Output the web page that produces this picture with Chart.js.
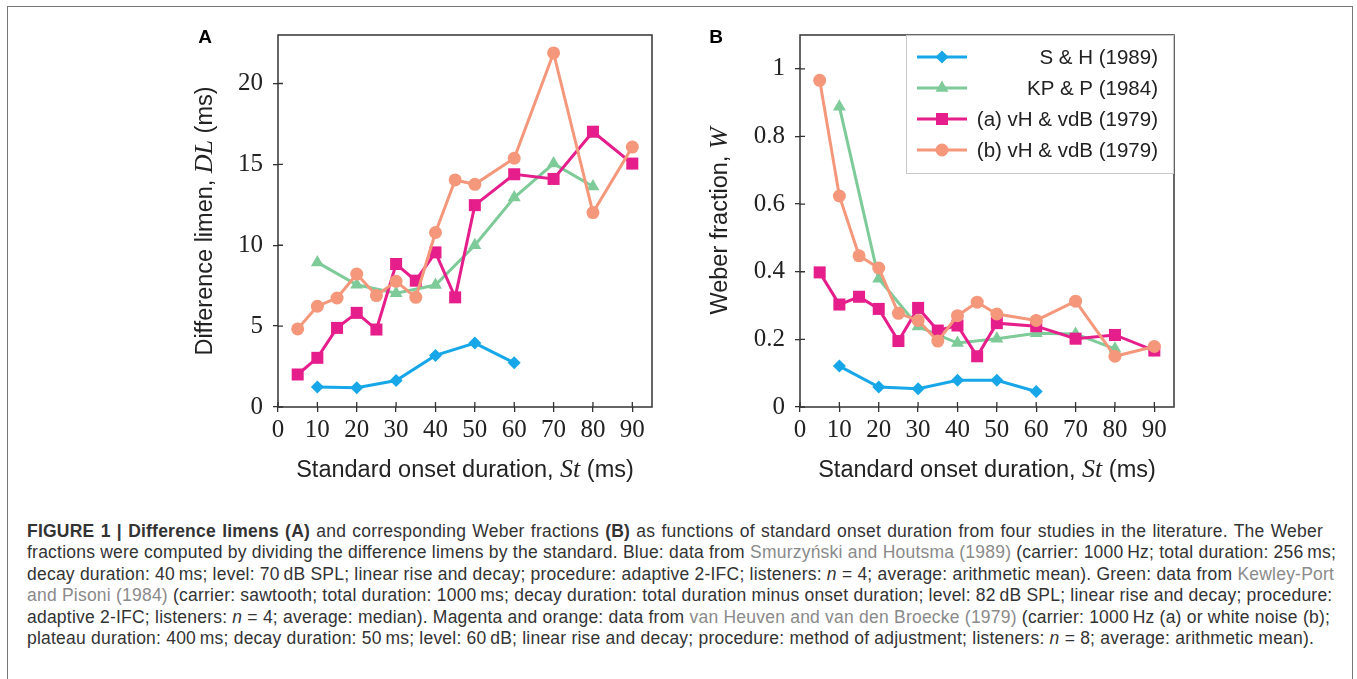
<!DOCTYPE html>
<html>
<head>
<meta charset="utf-8">
<script src="https://cdn.jsdelivr.net/npm/chart.js@4.4.1/dist/chart.umd.min.js"></script>
<style>
  body { margin: 0; background: #fff; width: 1357px; height: 679px; overflow: hidden; position: relative; font-family: "Liberation Sans", Arial, sans-serif; }
  #frame { position: absolute; left: 7px; top: 6px; width: 1344px; height: 720px; border: 1px solid #777; }
  canvas { position: absolute; top: 10px; }
  #chartA { left: 160px; }
  #chartB { left: 682px; }
  #caption { position: absolute; left: 27px; top: 521px; font-size: 17.5px; letter-spacing: 0.22px; line-height: 21.4px; color: #333; }
  #caption div { white-space: nowrap; text-align: justify; text-align-last: justify; }
  #caption .last { text-align-last: left; }
  #caption a { color: #8a8a8a; text-decoration: none; }
</style>
</head>
<body>
<div id="frame"></div>
<canvas id="chartA" width="520" height="490"></canvas>
<canvas id="chartB" width="520" height="490"></canvas>
<div id="caption">
  <div style="width:1296px"><b>FIGURE 1 | Difference limens (A)</b> and corresponding Weber fractions <b>(B)</b> as functions of standard onset duration from four studies in the literature. The Weber</div>
  <div style="width:1303px">fractions were computed by dividing the difference limens by the standard. Blue: data from <a>Smurzyński and Houtsma (1989)</a> (carrier: 1000&#8201;Hz; total duration: 256&#8201;ms;</div>
  <div style="width:1301px">decay duration: 40&#8201;ms; level: 70&#8201;dB SPL; linear rise and decay; procedure: adaptive 2-IFC; listeners: <i>n</i> = 4; average: arithmetic mean). Green: data from <a>Kewley-Port</a></div>
  <div style="width:1302px"><a>and Pisoni (1984)</a> (carrier: sawtooth; total duration: 1000&#8201;ms; decay duration: total duration minus onset duration; level: 82&#8201;dB SPL; linear rise and decay; procedure:</div>
  <div style="width:1299px">adaptive 2-IFC; listeners: <i>n</i> = 4; average: median). Magenta and orange: data from <a>van Heuven and van den Broecke (1979)</a> (carrier: 1000&#8201;Hz (a) or white noise (b);</div>
  <div class="last">plateau duration: 400&#8201;ms; decay duration: 50&#8201;ms; level: 60&#8201;dB; linear rise and decay; procedure: method of adjustment; listeners: <i>n</i> = 8; average: arithmetic mean).</div>
</div>
<script>
// standard onset durations (ms)
const stSH  = [10, 20, 30, 40, 50, 60];
const stKPP = [10, 20, 30, 40, 50, 60, 70, 80];
const stVH  = [5, 10, 15, 20, 25, 30, 35, 40, 45, 50, 60, 70, 80, 90];

// panel A: difference limen DL (ms)
const dlSH  = [1.23, 1.19, 1.64, 3.19, 3.95, 2.73];
const dlKPP = [8.94, 7.56, 7.03, 7.54, 10.0, 12.95, 15.05, 13.63];
const dlVHa = [2.01, 3.04, 4.89, 5.82, 4.79, 8.84, 7.81, 9.56, 6.78, 12.48, 14.39, 14.1, 17.02, 15.05];
const dlVHb = [4.83, 6.23, 6.74, 8.22, 6.89, 7.77, 6.78, 10.79, 14.04, 13.77, 15.38, 21.89, 12.02, 16.07];

// panel B: Weber fraction W
const wSH  = [0.121, 0.059, 0.054, 0.079, 0.079, 0.046];
const wKPP = [0.888, 0.379, 0.238, 0.189, 0.202, 0.218, 0.216, 0.172];
const wVHa = [0.398, 0.303, 0.326, 0.290, 0.195, 0.293, 0.226, 0.241, 0.150, 0.248, 0.239, 0.202, 0.213, 0.167];
const wVHb = [0.966, 0.624, 0.447, 0.411, 0.277, 0.256, 0.195, 0.270, 0.310, 0.275, 0.256, 0.313, 0.150, 0.179];

const seriesNames = ['S & H (1989)', 'KP & P (1984)', '(a) vH & vdB (1979)', '(b) vH & vdB (1979)'];
const xTicks  = [0, 10, 20, 30, 40, 50, 60, 70, 80, 90];
const yTicksA = [0, 5, 10, 15, 20];
const yTicksB = [0, 0.2, 0.4, 0.6, 0.8, 1];

const colors = ['#17a7e8', '#7ecb99', '#e61e8c', '#f4977a'];
const styles = ['rectRot', 'triangle', 'rect', 'circle'];
const radii  = [6.5, 7.5, 8.5, 6.5];
const ink = '#222';

function makeSet(i, xs, ys) {
  return {
    label: seriesNames[i],
    data: xs.map((x, k) => ({ x: x, y: ys[k] })),
    borderColor: colors[i],
    backgroundColor: colors[i],
    borderWidth: 3,
    pointStyle: styles[i],
    pointRadius: radii[i],
    pointHoverRadius: radii[i],
    pointBorderWidth: 0,
    order: 4 - i,
    clip: 10
  };
}

// frame, inner ticks, axis titles, panel letter, legend
const deco = {
  id: 'deco',
  afterDraw(chart, args, o) {
    const ctx = chart.ctx, a = chart.chartArea;
    const xs = chart.scales.x, ys = chart.scales.y;
    ctx.save();
    ctx.strokeStyle = '#333';
    ctx.lineWidth = 1.3;
    ctx.beginPath();
    xs.ticks.forEach(t => { const p = xs.getPixelForValue(t.value); ctx.moveTo(p, a.bottom); ctx.lineTo(p, a.bottom - 5); });
    ys.ticks.forEach(t => { const p = ys.getPixelForValue(t.value); ctx.moveTo(a.left, p); ctx.lineTo(a.left + 5, p); });
    ctx.stroke();
    ctx.lineWidth = 1.5;
    ctx.strokeRect(a.left, a.top, a.right - a.left, a.bottom - a.top);

    drawRich(ctx, o.xTitle, (a.left + a.right) / 2, a.bottom + 70, false);
    drawRich(ctx, o.yTitle, o.yTitleX, (a.top + a.bottom) / 2, true);

    ctx.fillStyle = '#000';
    ctx.font = 'bold 19px "Liberation Sans"';
    ctx.textAlign = 'center';
    ctx.textBaseline = 'middle';
    ctx.fillText(o.letter, o.letterX, 28);

    if (o.legend) {
      const bx = a.right - 268, by = a.top, bw = 268, bh = 138;
      ctx.fillStyle = 'rgba(255,255,255,0.85)';
      ctx.fillRect(bx, by, bw, bh);
      ctx.strokeStyle = '#c8c8c8';
      ctx.lineWidth = 1;
      ctx.strokeRect(bx + 0.5, by + 0.5, bw - 1, bh);
      chart.data.datasets.forEach((d, i) => {
        const ry = by + 22 + i * 31;
        ctx.strokeStyle = d.borderColor;
        ctx.lineWidth = d.borderWidth;
        ctx.beginPath();
        ctx.moveTo(bx + 11, ry);
        ctx.lineTo(bx + 61, ry);
        ctx.stroke();
        ctx.fillStyle = d.backgroundColor;
        Chart.helpers.drawPoint(ctx, { pointStyle: d.pointStyle, radius: d.pointRadius, borderWidth: 0, rotation: 0 }, bx + 36, ry);
        ctx.fillStyle = ink;
        ctx.font = '20.5px "Liberation Sans"';
        ctx.textAlign = 'right';
        ctx.textBaseline = 'middle';
        ctx.fillText(d.label, a.right - 16, ry + 1);
      });
    }
    ctx.restore();
  }
};

function drawRich(ctx, parts, x, y, rotate) {
  ctx.save();
  ctx.translate(x, y);
  if (rotate) ctx.rotate(-Math.PI / 2);
  let total = 0;
  parts.forEach(p => { ctx.font = p.f; p.w = ctx.measureText(p.t).width; total += p.w; });
  let cx = -total / 2;
  ctx.fillStyle = ink;
  ctx.textBaseline = 'alphabetic';
  ctx.textAlign = 'left';
  parts.forEach(p => { ctx.font = p.f; ctx.fillText(p.t, cx, 0); cx += p.w; });
  ctx.restore();
}

const sans = '23.5px "Liberation Sans"';
const math = 'italic 26px "Liberation Serif"';
const xTitle = [{ t: 'Standard onset duration, ', f: sans }, { t: 'St', f: math }, { t: ' (ms)', f: sans }];

function makeChart(id, sets, yMax, yTicks, yTitle, letter, letterX, legend) {
  return new Chart(id, {
    type: 'line',
    data: { datasets: sets },
    options: {
      responsive: false,
      animation: false,
      events: [],
      layout: { padding: { left: 0, right: 28, top: 23, bottom: 0 } },
      plugins: {
        legend: { display: false },
        tooltip: { enabled: false },
        deco: { xTitle: xTitle, yTitle: yTitle, yTitleX: letter === 'A' ? 52 : 45, letter: letter, letterX: letterX, legend: legend }
      },
      scales: {
        x: {
          type: 'linear', min: 0, max: 95,
          afterBuildTicks: s => { s.ticks = xTicks.map(v => ({ value: v })); },
          afterFit: s => { s.height = 93; },
          ticks: { font: { family: 'Liberation Serif', size: 25 }, color: ink, padding: 3, maxRotation: 0, autoSkip: false },
          grid: { drawOnChartArea: false, tickLength: 5, color: '#333', lineWidth: 1.3 },
          border: { display: false }
        },
        y: {
          type: 'linear', min: 0, max: yMax,
          afterBuildTicks: s => { s.ticks = yTicks.map(v => ({ value: v })); },
          afterFit: s => { s.width = 118; },
          ticks: { font: { family: 'Liberation Serif', size: 25 }, color: ink, padding: 10, autoSkip: false,
                   callback: v => String(+(+v).toFixed(2)) },
          grid: { drawOnChartArea: false, tickLength: 5, color: '#333', lineWidth: 1.3 },
          border: { display: false }
        }
      }
    },
    plugins: [deco]
  });
}

makeChart('chartA',
  [makeSet(0, stSH, dlSH), makeSet(1, stKPP, dlKPP), makeSet(2, stVH, dlVHa), makeSet(3, stVH, dlVHb)],
  23, yTicksA,
  [{ t: 'Difference limen, ', f: sans }, { t: 'DL', f: math }, { t: ' (ms)', f: sans }],
  'A', 45, false);

makeChart('chartB',
  [makeSet(0, stSH, wSH), makeSet(1, stKPP, wKPP), makeSet(2, stVH, wVHa), makeSet(3, stVH, wVHb)],
  1.1, yTicksB,
  [{ t: 'Weber fraction, ', f: sans }, { t: 'W', f: math }],
  'B', 34, true);
</script>
</body>
</html>
